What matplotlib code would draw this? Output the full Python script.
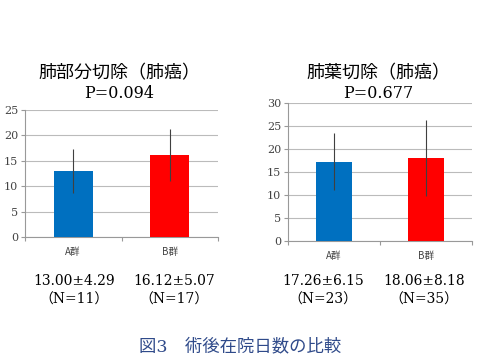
import matplotlib
matplotlib.use("Agg")
import matplotlib.pyplot as plt

# Data
groups = ["A群", "B群"]
titles = ["肺部分切除\uff08肺癌\uff09", "肺葉切除\uff08肺癌\uff09"]
p_values = ["P=0.094", "P=0.677"]
means_partial = [13.00, 16.12]
sd_partial = [4.29, 5.07]
n_partial = [11, 17]
means_lobe = [17.26, 18.06]
sd_lobe = [6.15, 8.18]
n_lobe = [23, 35]
ymax = [25, 30]
caption = "図3\u3000術後在院日数の比較"

bar_colors = ["#0070C0", "#FF0000"]
serif = ["DejaVu Serif", "Noto Sans CJK JP"]
sans = ["Noto Sans CJK JP", "DejaVu Sans"]

W, H = 480, 360
fig = plt.figure(figsize=(4.8, 3.6), dpi=100)


def px(x, y):
    return x / W, 1 - y / H


def panel(rect, means, sds, ns, title, pval, top, title_x, stat_xs, label_y):
    ax = fig.add_axes(rect)
    x = range(len(groups))
    ax.bar(x, means, width=0.4, color=bar_colors, zorder=3)
    ax.errorbar(x, means, yerr=sds, fmt="none", ecolor="#404040",
                elinewidth=0.8, capsize=0, zorder=4)
    ax.set_xlim(-0.5, len(groups) - 0.5)
    ax.set_ylim(0, top)
    ax.set_yticks(range(0, top + 1, 5))
    ax.yaxis.grid(True, color="#BBBBBB", linewidth=0.8, zorder=0)
    for s in ["top", "right"]:
        ax.spines[s].set_visible(False)
    for s in ["left", "bottom"]:
        ax.spines[s].set_color("#999999")
    ax.tick_params(axis="y", length=3, color="#999999", labelsize=8,
                   labelcolor="#444444", pad=2)
    ax.set_xticks([-0.5, 0.5, 1.5])
    ax.set_xticklabels([])
    ax.tick_params(axis="x", length=3, color="#999999")
    for lab in ax.get_yticklabels():
        lab.set_family(serif)
    # category labels
    for i, g in enumerate(groups):
        xd = ax.transData.transform((i, 0))[0]
        fig.text(xd / W, 1 - label_y / H, g, ha="center",
                 va="center", fontsize=7, color="#444444", family=sans)
    # title
    fig.text(*px(title_x, 73), title, ha="center", va="center",
             fontsize=13, family=sans)
    fig.text(*px(title_x, 93), pval, ha="center", va="center",
             fontsize=11.5, family=serif)
    # stats
    for sx, m, sd, n in zip(stat_xs, means, sds, ns):
        fig.text(*px(sx, 281), f"{m:.2f}±{sd:.2f}",
                 ha="center", va="center", fontsize=10, family=serif)
        fig.text(*px(sx, 300), f"\uff08N={n}\uff09", ha="center",
                 va="center", fontsize=10, family=serif)


panel([25 / W, 1 - 237 / H, 193 / W, 127 / H], means_partial, sd_partial,
      n_partial, titles[0], p_values[0], ymax[0], 119, [74, 174], 252)
panel([288 / W, 1 - 241 / H, 184 / W, 138 / H], means_lobe, sd_lobe,
      n_lobe, titles[1], p_values[1], ymax[1], 378, [323, 424], 256)

fig.text(*px(240, 347), caption, ha="center", va="center", fontsize=12.5,
         color="#2F4A8A", family=serif)

fig.savefig("out.png", dpi=100)
